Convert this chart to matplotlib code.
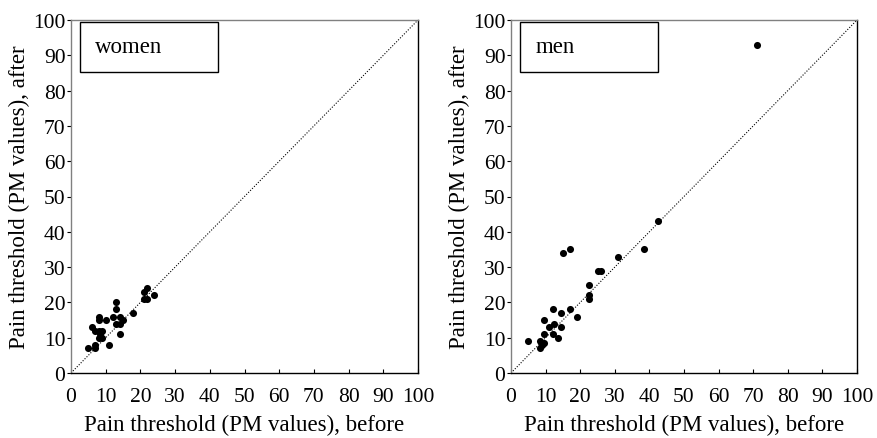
import matplotlib
matplotlib.use("Agg")
import matplotlib.pyplot as plt
from matplotlib.patches import Rectangle

plt.rcParams['font.family'] = ['Liberation Serif', 'DejaVu Serif']

women_before = [5, 7, 7, 6, 7, 8, 9, 8, 8, 8, 10, 8.5, 9, 11, 13, 13, 12, 14, 14, 13, 15, 14, 18, 21, 21, 22, 22, 24]
women_after = [7, 7, 8, 13, 12, 12, 12, 16, 15, 10, 15, 11, 10, 8, 20, 18, 16, 16, 14, 14, 15, 11, 17, 21, 23, 21, 24, 22]

men_before = [5, 8.5, 8.5, 9, 9.5, 9.5, 9.5, 11, 12, 12, 12.5, 13.5, 14.5, 14.5, 17, 19, 22.5, 22.5, 22.5, 25, 26, 31, 38.5, 15, 17, 42.5, 71]
men_after = [9, 9, 7, 8, 8.5, 11, 15, 13, 18, 11, 14, 10, 13, 17, 18, 16, 25, 22, 21, 29, 29, 33, 35, 34, 35, 43, 93]

ticks = [0, 10, 20, 30, 40, 50, 60, 70, 80, 90, 100]
xlabel = "Pain threshold (PM values), before"
ylabel = "Pain threshold (PM values), after"

fig = plt.figure(figsize=(8.77, 4.39), dpi=100)
ax1 = fig.add_axes([71/877, 65/439, 347/877, 353/439])
ax2 = fig.add_axes([511/877, 65/439, 346/877, 353/439])

for ax, xb, ya, name in [(ax1, women_before, women_after, "women"),
                         (ax2, men_before, men_after, "men")]:
    ax.set_xlim(0, 100)
    ax.set_ylim(0, 100)
    ax.plot([0, 100], [0, 100], linestyle=(0, (1, 1.5)), color='black', linewidth=0.8)
    ax.scatter(xb, ya, s=26, color='black', zorder=3, linewidths=0)
    ax.set_xticks(ticks)
    ax.set_yticks(ticks)
    ax.tick_params(axis='x', direction='in', length=3, labelsize=15.5, pad=10)
    ax.tick_params(axis='y', direction='out', length=3, labelsize=15.5, pad=1)
    ax.spines['top'].set_color('#808080')
    ax.spines['left'].set_color('#808080')
    ax.spines['right'].set_color('black')
    ax.spines['bottom'].set_color('black')
    for s in ax.spines.values():
        s.set_linewidth(1.0)
    ax.set_xlabel(xlabel, fontsize=16.5, labelpad=6)
    ax.set_ylabel(ylabel, fontsize=16.5, labelpad=2)
    ax.add_patch(Rectangle((2.6, 85.3), 39.8, 14.0, fill=False, edgecolor='black', linewidth=1.0, zorder=4))
    ax.text(7, 92.5, name, fontsize=16.5, va='center', ha='left')

fig.savefig("out.png", dpi=100)
